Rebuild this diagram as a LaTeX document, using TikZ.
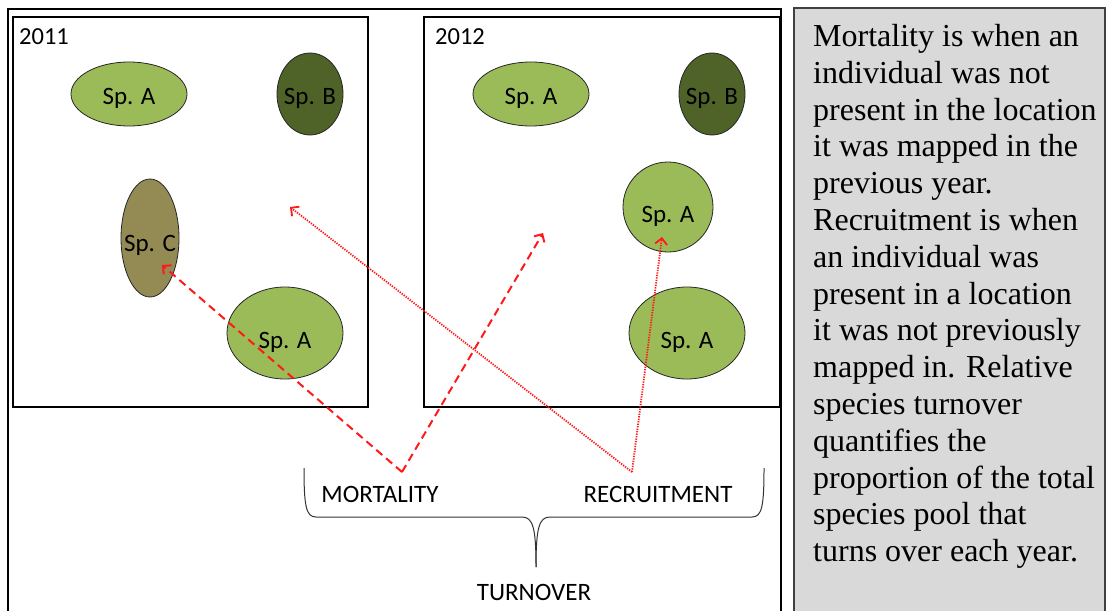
\documentclass[tikz,border=0pt]{standalone}
\usepackage{fontspec}
\setmainfont{Liberation Serif}
\newfontfamily\calib{Carlito}
\usetikzlibrary{shapes.geometric,arrows.meta}
\definecolor{lgreen}{HTML}{9BBB59}
\definecolor{dgreen}{HTML}{4F6228}
\definecolor{khaki}{HTML}{948A54}
\definecolor{boxgray}{HTML}{D9D9D9}
\definecolor{edgegray}{HTML}{404040}
\definecolor{arrred}{HTML}{FF1A1A}
\begin{document}
\begin{tikzpicture}[x=1pt,y=-1pt,
  sp/.style={ellipse, draw=black!85, line width=0.8pt, inner sep=0pt, text depth=0pt,
    font=\calib\fontsize{25}{30}\selectfont},
  plotframe/.style={draw=black, line width=2.5pt},
  mort/.style={draw=arrred, line width=2pt, dash pattern=on 8pt off 5pt,
    -{Straight Barb[length=6pt,width=12pt,line width=2pt]}},
  recr/.style={draw=arrred, line width=1.8pt, dash pattern=on 1.3pt off 1.2pt,
    -{Straight Barb[length=6pt,width=12pt,line width=1.8pt]}},
  lab/.style={font=\calib\fontsize{25}{30}\selectfont, anchor=base, inner sep=0pt},
  yearlab/.style={font=\calib\fontsize{24.5}{29}\selectfont, anchor=base west, inner sep=0pt}]
\useasboundingbox (0,0) rectangle (1107,610);
\clip (0,0) rectangle (1107,610);

% outer frame
\draw[line width=2pt] (8,9) rectangle (781,640);
% plots
\draw[plotframe] (13,17) rectangle (368,407);
\draw[plotframe] (424,17) rectangle (780,407);
\node[yearlab] (y2011) at (19,45) {2011};
\node[yearlab] (y2012) at (435,45) {2012};

% 2011 individuals
\node[sp, fill=lgreen, minimum width=116pt, minimum height=64pt, text height=20pt] (a1) at (129,94) {\makebox[0pt]{Sp. A}};
\node[sp, fill=dgreen, minimum width=66pt, minimum height=82pt, text height=20pt] (b1) at (310,94) {\makebox[0pt]{Sp. B}};
\node[sp, fill=khaki, minimum width=58pt, minimum height=118pt, text height=26pt] (c1) at (150,238) {\makebox[0pt]{Sp. C}};
\node[sp, fill=lgreen, minimum width=116pt, minimum height=92pt, text height=30pt] (a2) at (285,333) {\makebox[0pt]{Sp. A}};

% 2012 individuals
\node[sp, fill=lgreen, minimum width=116pt, minimum height=64pt, text height=20pt] (a3) at (531,94) {\makebox[0pt]{Sp. A}};
\node[sp, fill=dgreen, minimum width=66pt, minimum height=82pt, text height=20pt] (b2) at (712,94) {\makebox[0pt]{Sp. B}};
\node[sp, fill=lgreen, minimum width=90pt, minimum height=90pt, text height=30pt] (a4) at (668,207) {\makebox[0pt]{Sp. A}};
\node[sp, fill=lgreen, minimum width=116pt, minimum height=92pt, text height=30pt] (a5) at (687,333) {\makebox[0pt]{Sp. A}};

% arrow end points
\coordinate (mv) at (402,472);
\coordinate (rv) at (632,472);
\coordinate (mt1) at (162,265);
\coordinate (mt2) at (543,233);
\coordinate (rt1) at (290,207);
\coordinate (rt2) at (662,237);

\draw[mort] (mv) -- (mt1);
\draw[mort] (mv) -- (mt2);
\draw[recr] (rv) -- (rt1);
\draw[recr] (rv) -- (rt2);

% brace
\draw[line width=1pt, black!80] (304,468) .. controls (304,506) and (306,517) .. (316,517)
  -- (522,517) .. controls (533,517) and (536,528) .. (536,567);
\draw[line width=1pt, black!80] (536,567) .. controls (536,528) and (539,517) .. (550,517)
  -- (752,517) .. controls (762,517) and (764,506) .. (764,468);

\node[lab] (mortlab) at (380,502) {MORTALITY};
\node[lab] (recrlab) at (658,502) {RECRUITMENT};
\node[lab] (turnlab) at (534,600) {TURNOVER};

% description box
\draw[fill=boxgray, draw=edgegray, line width=1.5pt] (794,8) rectangle (1105,640);
\node[anchor=north west, inner sep=0pt, align=left, font=\fontsize{32}{36.8}\selectfont] (desc) at (813,24)
{Mortality is when an\\
individual was not\\
present in the location\\
it was mapped in the\\
previous year.\\
Recruitment is when\\
an individual was\\
present in a location\\
it was not previously\\
mapped in. Relative\\
species turnover\\
quantifies the\\
proportion of the total\\
species pool that\\
turns over each year.};
\end{tikzpicture}
\end{document}
